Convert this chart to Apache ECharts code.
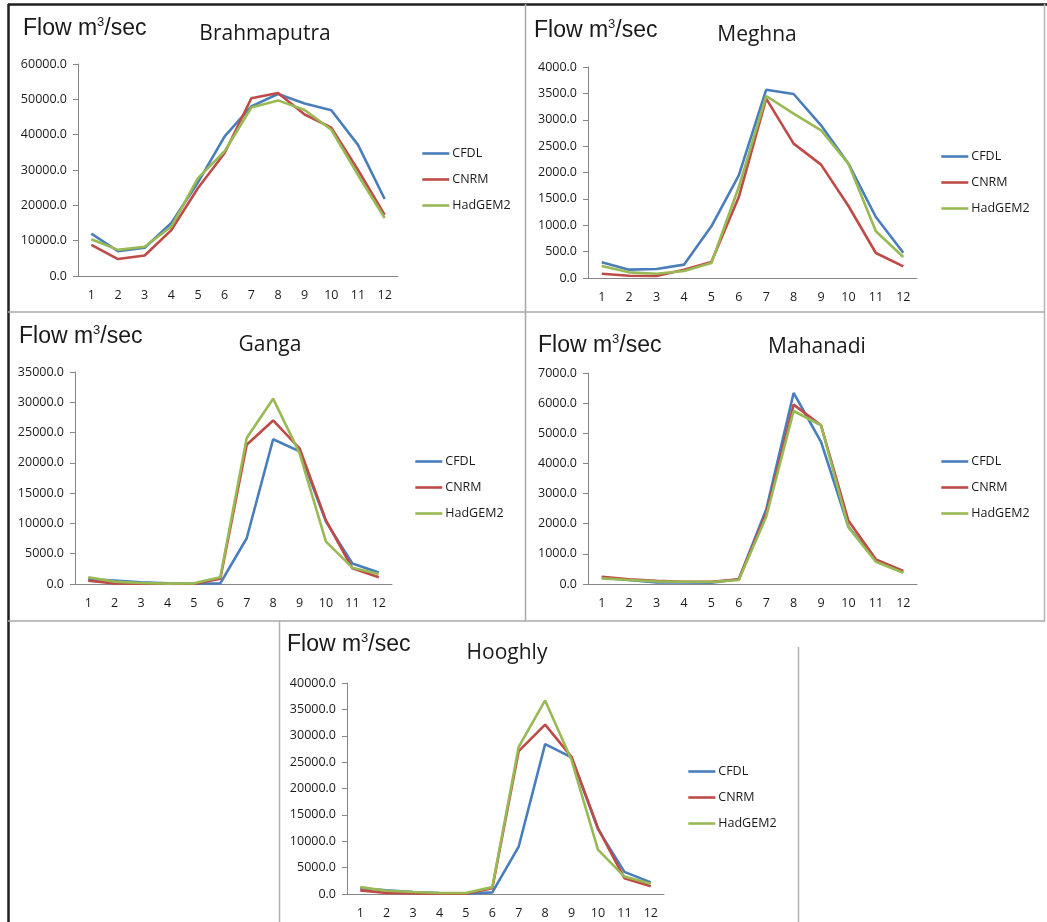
<!DOCTYPE html>
<html>
<head>
<meta charset="utf-8">
<script src="https://cdn.jsdelivr.net/npm/echarts@6/dist/echarts.min.js"></script>
<style>
  html, body { margin: 0; padding: 0; background: #fff; }
  #chart { width: 1047px; height: 922px; }
</style>
</head>
<body>
<div id="chart"></div>
<script>
// months on the x axis
const months = ['1', '2', '3', '4', '5', '6', '7', '8', '9', '10', '11', '12'];
const models = ['CFDL', 'CNRM', 'HadGEM2'];

// Brahmaputra
const brahmaputraCFDL = [12000, 7000, 8000, 15000, 26500, 39500, 48000, 51500, 48800, 46900, 37100, 21800];
const brahmaputraCNRM = [8800, 4800, 5800, 13000, 24900, 34800, 50300, 51800, 45700, 42000, 30000, 17300];
const brahmaputraHadGEM2 = [10400, 7400, 8300, 14000, 27700, 35300, 47700, 49700, 47000, 41400, 28600, 16400];

// Meghna
const meghnaCFDL = [300, 158, 170, 253, 980, 1946, 3570, 3488, 2894, 2167, 1156, 480];
const meghnaCNRM = [82, 44, 38, 158, 303, 1535, 3400, 2547, 2149, 1365, 474, 221];
const meghnaHadGEM2 = [227, 107, 82, 133, 284, 1725, 3450, 3115, 2800, 2167, 885, 398];

// Ganga
const gangaCFDL = [800, 550, 280, 110, 50, 100, 7550, 23900, 21900, 10300, 3400, 1900];
const gangaCNRM = [550, 100, 50, 0, 0, 880, 23000, 27000, 22400, 10500, 2600, 1100];
const gangaHadGEM2 = [1100, 390, 165, 55, 110, 1100, 24100, 30600, 21600, 7000, 2700, 1650];

// Mahanadi
const mahanadiCFDL = [210, 132, 55, 55, 44, 155, 2473, 6338, 4715, 1900, 773, 386];
const mahanadiCNRM = [243, 155, 110, 77, 77, 155, 2340, 5950, 5266, 2098, 817, 430];
const mahanadiHadGEM2 = [188, 132, 88, 77, 66, 132, 2230, 5740, 5266, 1877, 740, 375];

// Hooghly
const hooghlyCFDL = [1100, 700, 380, 190, 60, 300, 9000, 28400, 25900, 12300, 4200, 2200];
const hooghlyCNRM = [690, 190, 125, 60, 60, 1100, 27100, 32100, 26000, 12500, 3000, 1450];
const hooghlyHadGEM2 = [1300, 630, 380, 190, 190, 1300, 27900, 36700, 25400, 8400, 3300, 1950];

// y axis ranges (tick labels)
const yMax = [60000, 4000, 35000, 7000, 40000];
const yStep = [10000, 500, 5000, 1000, 5000];

const rivers = ['Brahmaputra', 'Meghna', 'Ganga', 'Mahanadi', 'Hooghly'];
const riverData = [
    [brahmaputraCFDL, brahmaputraCNRM, brahmaputraHadGEM2],
    [meghnaCFDL, meghnaCNRM, meghnaHadGEM2],
    [gangaCFDL, gangaCNRM, gangaHadGEM2],
    [mahanadiCFDL, mahanadiCNRM, mahanadiHadGEM2],
    [hooghlyCFDL, hooghlyCNRM, hooghlyHadGEM2]
];

const colors = ['#4A7EBB', '#BE4B48', '#98B954'];

// panel layout: grid box, "Flow" label, title centre, legend position
const layout = [
    { grid: [78, 64, 320, 212], flow: [23, 16], title: [265, 24], legend: [421, 147] },
    { grid: [588, 67, 329, 211], flow: [534, 18], title: [757, 25], legend: [940, 150] },
    { grid: [75, 372, 317, 212], flow: [19, 324], title: [270, 335], legend: [414, 455] },
    { grid: [588, 373, 329, 211], flow: [538, 333], title: [817, 337], legend: [940, 455] },
    { grid: [347, 683, 317, 211], flow: [287, 632], title: [507, 643], legend: [687, 765] }
];

const textColor = '#1a1a1a';
const axisColor = '#868686';

const option = {
    animation: false,
    backgroundColor: '#fff',
    title: [],
    legend: [],
    grid: [],
    xAxis: [],
    yAxis: [],
    series: [],
    graphic: []
};

rivers.forEach(function (name, i) {
    const L = layout[i];
    option.grid.push({ left: L.grid[0], top: L.grid[1], width: L.grid[2], height: L.grid[3] });
    option.title.push({
        text: 'Flow m{sup|3}/sec',
        left: L.flow[0],
        top: L.flow[1],
        padding: 0,
        textStyle: {
            fontFamily: 'Liberation Sans',
            fontSize: 23,
            fontWeight: 'normal',
            color: textColor,
            rich: {
                sup: { fontFamily: 'Liberation Sans', fontSize: 13, verticalAlign: 'top', lineHeight: 26, color: textColor }
            }
        }
    });
    option.title.push({
        text: name,
        left: L.title[0],
        top: L.title[1],
        textAlign: 'center',
        padding: 0,
        textStyle: { fontFamily: 'Open Sans', fontSize: 21, fontWeight: 'normal', color: textColor }
    });
    option.legend.push({
        data: models,
        orient: 'vertical',
        left: L.legend[0],
        top: L.legend[1],
        padding: 0,
        itemWidth: 27,
        itemHeight: 14,
        itemGap: 13,
        itemStyle: { opacity: 0 },
        lineStyle: { width: 2.6 },
        selectedMode: false,
        textStyle: { fontFamily: 'Open Sans', fontSize: 12.5, color: textColor, padding: [0, 0, 0, -2] }
    });
    option.xAxis.push({
        type: 'category',
        gridIndex: i,
        data: months,
        boundaryGap: true,
        axisLine: { lineStyle: { color: axisColor, width: 1 } },
        axisTick: { length: 5, lineStyle: { color: axisColor } },
        axisLabel: { fontFamily: 'Open Sans', fontSize: 12.5, color: textColor, margin: 13, interval: 0 },
        splitLine: { show: false }
    });
    option.yAxis.push({
        type: 'value',
        gridIndex: i,
        min: 0,
        max: yMax[i],
        interval: yStep[i],
        axisLine: { show: true, lineStyle: { color: axisColor, width: 1 } },
        axisTick: { show: true, length: 5, lineStyle: { color: axisColor } },
        axisLabel: {
            fontFamily: 'Open Sans', fontSize: 12.5, color: textColor, margin: 11,
            formatter: function (v) { return v.toFixed(1); }
        },
        splitLine: { show: false }
    });
    models.forEach(function (m, k) {
        option.series.push({
            type: 'line',
            name: m,
            xAxisIndex: i,
            yAxisIndex: i,
            data: riverData[i][k],
            symbol: 'none',
            color: colors[k],
            lineStyle: { width: 2.6, color: colors[k] }
        });
    });
});

// panel frames
function seg(x1, y1, x2, y2, color, w) {
    return { type: 'line', shape: { x1: x1, y1: y1, x2: x2, y2: y2 }, style: { stroke: color, lineWidth: w }, silent: true };
}
option.graphic = [
    seg(8, 4.5, 1047, 4.5, '#1f1f1f', 2.5),
    seg(8.5, 4, 8.5, 922, '#1f1f1f', 2.5),
    seg(1044.5, 4, 1044.5, 621, '#b5b5b5', 1.5),
    seg(525.5, 4, 525.5, 621, '#a8a8a8', 1.5),
    seg(8, 312, 1045, 312, '#a8a8a8', 1.5),
    seg(8, 621, 1045, 621, '#a8a8a8', 1.5),
    seg(279.5, 621, 279.5, 922, '#b0b0b0', 1.5),
    seg(798.5, 647, 798.5, 922, '#b0b0b0', 1.5)
];

const chart = echarts.init(document.getElementById('chart'));
chart.setOption(option);
</script>
</body>
</html>
